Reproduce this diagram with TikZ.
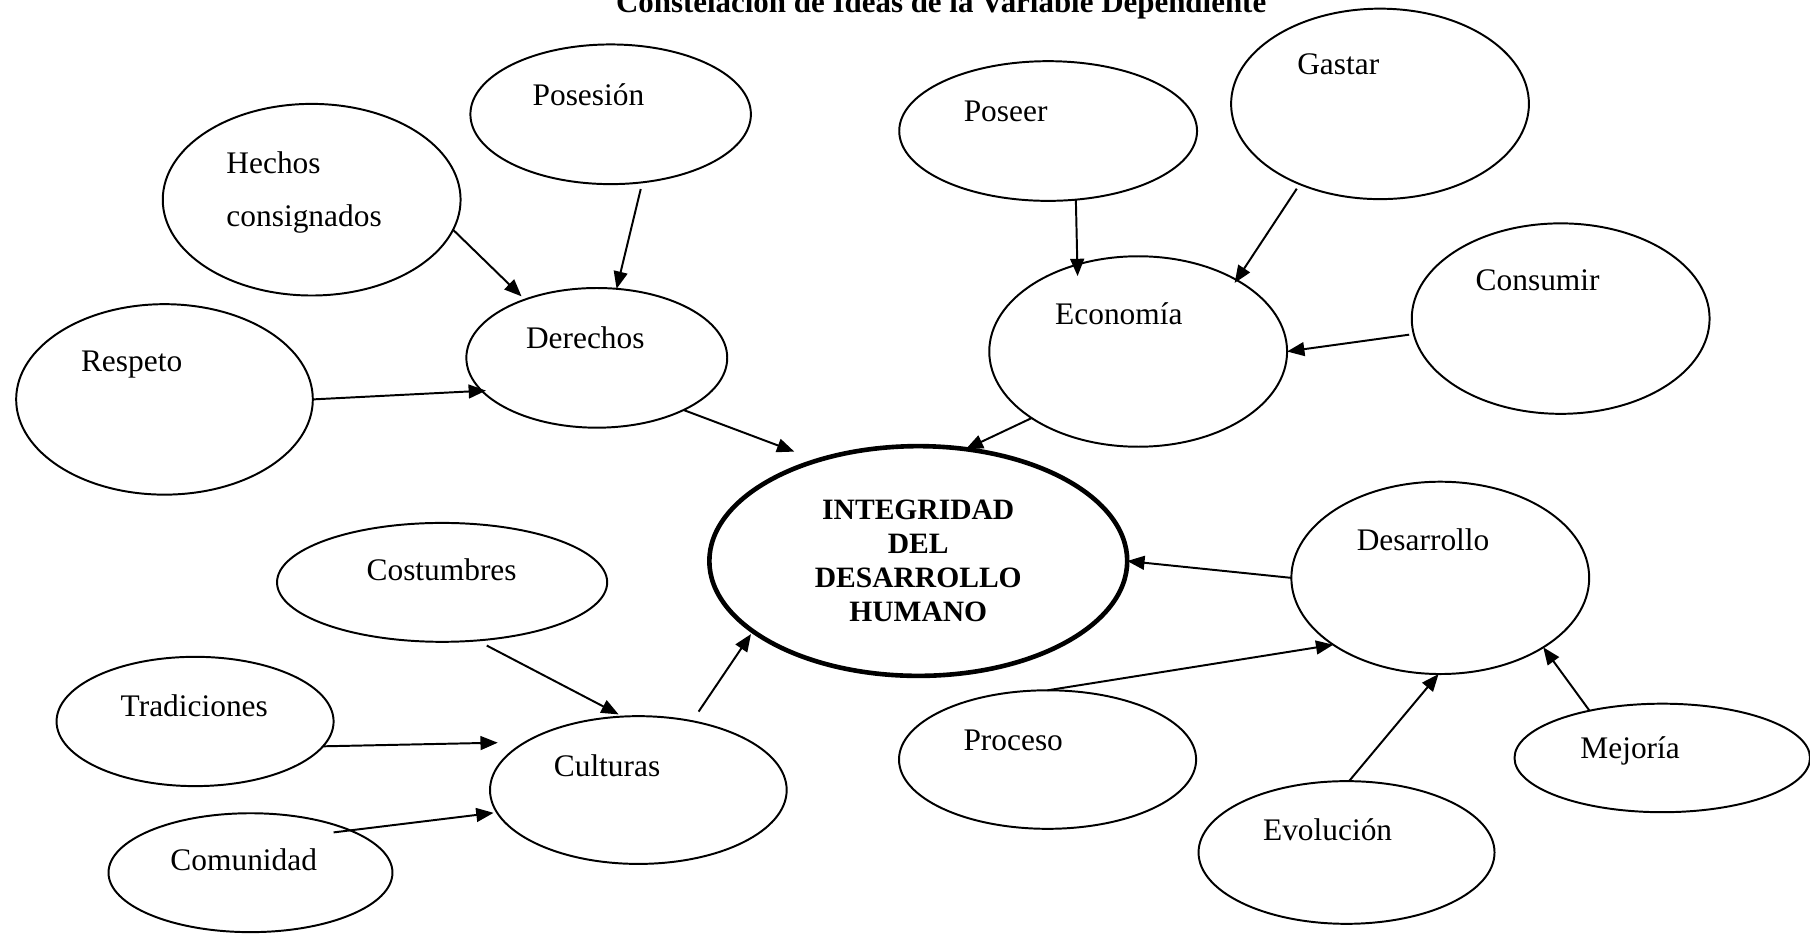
\documentclass[tikz,border=0pt]{standalone}
\usepackage{fontspec}
\setmainfont{Liberation Serif}
\usetikzlibrary{shapes.geometric,arrows.meta}
\begin{document}
\begin{tikzpicture}[x=0.5pt,y=-0.5pt,
  ell/.style 2 args={ellipse,draw,line width=0.85pt,inner sep=0pt,outer sep=0pt,minimum width=#1pt,minimum height=#2pt},
  lbl/.style={inner sep=0pt,anchor=base west,font=\fontsize{13.6}{16}\selectfont},
  arr/.style={line width=0.85pt,-{Triangle[length=7.5pt,width=6pt]}}]
\useasboundingbox (0,0) rectangle (1568,808.3);
\clip (0,0) rectangle (1568,808.3);

% title
\node[inner sep=0pt,anchor=base,font=\bfseries\fontsize{13.4}{16}\selectfont] (title) at (815.3,11) {Constelación de Ideas de la Variable Dependiente};

% ellipses
\node[ell={121.5}{60.5}] (posesion) at (529,99) {};
\node[ell={129}{83}] (hechos) at (270,173) {};
\node[ell={113}{60.5}] (derechos) at (517,310) {};
\node[ell={128.5}{82.5}] (respeto) at (142.5,346) {};
\node[ell={129}{60.5}] (poseer) at (908,113.5) {};
\node[ell={129}{82.5}] (gastar) at (1195.5,90) {};
\node[ell={129}{82.5}] (economia) at (986,304.5) {};
\node[ell={129}{82.5}] (consumir) at (1352,276) {};
\node[ell={181}{99.5},line width=2pt] (central) at (795.5,486) {};
\node[ell={129}{83.3}] (desarrollo) at (1247.7,500.6) {};
\node[ell={143}{51.5}] (costumbres) at (383,504.5) {};
\node[ell={120}{56}] (tradiciones) at (169,625) {};
\node[ell={128.5}{64}] (culturas) at (553,684.4) {};
\node[ell={123}{51.5}] (comunidad) at (217,756) {};
\node[ell={128.7}{60}] (proceso) at (907.5,658) {};
\node[ell={128.2}{61.8}] (evolucion) at (1166.5,738.5) {};
\node[ell={128}{47}] (mejoria) at (1440,656.6) {};

% texts
\node[lbl] (t-posesion) at (461,91) {Posesión};
\node[lbl] (t-hechos) at (195.8,150.2) {Hechos};
\node[lbl] (t-consignados) at (195.8,196) {consignados};
\node[lbl] (t-derechos) at (455.3,301.8) {Derechos};
\node[lbl] (t-respeto) at (69.8,322) {Respeto};
\node[lbl] (t-poseer) at (834.5,105.4) {Poseer};
\node[lbl] (t-gastar) at (1123.4,64.4) {Gastar};
\node[lbl] (t-economia) at (913.7,280.7) {Economía};
\node[lbl] (t-consumir) at (1278,252) {Consumir};
\node[lbl] (t-desarrollo) at (1175,476.5) {Desarrollo};
\node[lbl] (t-proceso) at (834.3,650.3) {Proceso};
\node[lbl] (t-mejoria) at (1368.7,657.5) {Mejoría};
\node[lbl] (t-evolucion) at (1093.8,728.3) {Evolución};
\node[lbl] (t-costumbres) at (317.2,502.5) {Costumbres};
\node[lbl] (t-tradiciones) at (104.2,620.3) {Tradiciones};
\node[lbl] (t-culturas) at (479.4,672.9) {Culturas};
\node[lbl] (t-comunidad) at (147.3,754.3) {Comunidad};
\node[inner sep=0pt,align=center,font=\bfseries\fontsize{12.8}{14.7}\selectfont] (t-central) at (795.5,486) {INTEGRIDAD\\DEL\\DESARROLLO\\HUMANO};

% connectors
\draw[arr, shorten <=3pt] (posesion.-65) -- (derechos.74);
\draw[arr, shorten >=2pt] (hechos.-12.5) -- (derechos.141);
\draw[arr, shorten >=-1.8pt] (respeto.0) -- (derechos.196.7);
\draw[arr, shorten >=10.8pt] (derechos.-31) -- (central.135.3);
\draw[arr, shorten >=-5pt] (poseer.-68.6) -- (economia.125.8);
\draw[arr, shorten <=2.4pt, shorten >=-1.5pt] (gastar.225.4) -- (economia.36.4);
\draw[arr, shorten <=2pt] (consumir.186.2) -- (economia.0);
\draw[arr] (economia.212.7) -- (central.67);
\draw[arr] (desarrollo.180) -- (central.0);
\draw[arr] (proceso.90) -- (desarrollo.212.8);
\draw[arr] (evolucion.88.4) -- (desarrollo.269);
\draw[arr] (mejoria.147) -- (desarrollo.-34);
\draw[arr, shorten <=4.75pt, shorten >=2pt] (costumbres.-59) -- (culturas.102.4);
\draw[arr, shorten >=12pt] (tradiciones.-11.6) -- (culturas.157);
\draw[arr, shorten <=-7.25pt, shorten >=1.5pt] (comunidad.23.6) -- (culturas.189.3);
\draw[arr, shorten <=5pt, shorten >=1.5pt] (culturas.52.2) -- (central.203.4);
\end{tikzpicture}
\end{document}
